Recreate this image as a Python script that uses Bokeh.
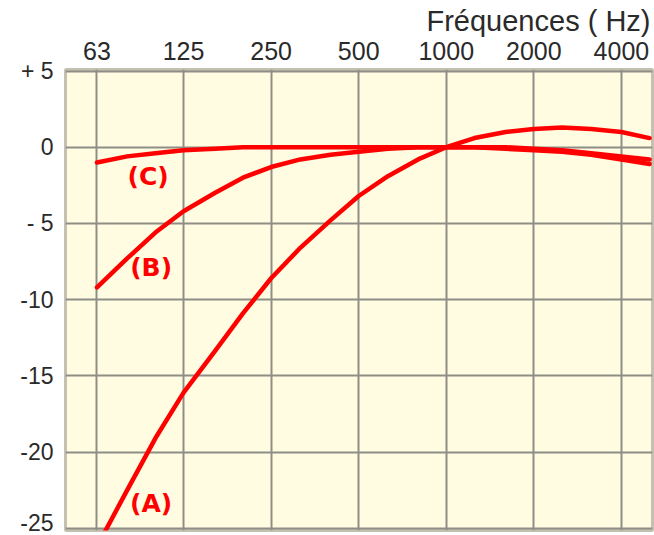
from bokeh.plotting import figure
from bokeh.models import FixedTicker, Label, ColumnDataSource
from bokeh.embed import file_html
from bokeh.resources import INLINE

# Frequency points (Hz) and weighting responses (dB) for the A, B and C curves
freqs = [63, 80, 100, 125, 160, 200, 250, 315, 400, 500, 630, 800,
         1000, 1250, 1600, 2000, 2500, 3150, 4000, 5000]
curve_a = [-26.2, -22.5, -19.1, -16.1, -13.4, -10.9, -8.6, -6.6, -4.8, -3.2, -1.9, -0.8,
           0.0, 0.6, 1.0, 1.2, 1.3, 1.2, 1.0, 0.6]
curve_b = [-9.2, -7.3, -5.6, -4.2, -3.0, -2.0, -1.3, -0.8, -0.5, -0.3, -0.1, 0.0,
           0.0, 0.0, 0.0, -0.1, -0.2, -0.4, -0.6, -0.8]
curve_c = [-1.0, -0.6, -0.4, -0.2, -0.1, 0.0, 0.0, 0.0, 0.0, 0.0, 0.0, 0.0,
           0.0, 0.0, -0.1, -0.2, -0.3, -0.5, -0.8, -1.1]

# Axis ticks and labels
freq_ticks = [63, 125, 250, 500, 1000, 2000, 4000]
freq_labels = ["63", "125", "250", "500", "1000", "2000", "4000"]
db_ticks = [5, 0, -5, -10, -15, -20, -25]
db_labels = ["+ 5", "0", "- 5", "-10", "-15", "-20", "-25"]

# Curve names and where their tags sit (Hz, dB)
curve_names = ["(A)", "(B)", "(C)"]
tag_freq = [96.7, 96.7, 94.4]
tag_db = [-23.4, -7.9, -1.9]

RED = "#ff0000"
INK = "#2a2a2a"
FONT = "Liberation Sans"

p = figure(width=654, height=535, x_axis_type="log",
           x_range=(49.1, 5116), y_range=(-25.15, 5.1),
           x_axis_location="above", title_location="above",
           output_backend="svg", toolbar_location=None,
           min_border_left=65, min_border_right=2,
           min_border_top=0, min_border_bottom=5)

p.background_fill_color = "#fffce1"
p.border_fill_color = "white"
p.outline_line_color = "#c4c1b2"
p.outline_line_width = 3

# Axis caption at the top right
p.title.text = "Fréquences ( Hz)"
p.title.align = "right"
p.title.text_font = FONT
p.title.text_font_size = "29px"
p.title.text_font_style = "normal"
p.title.text_color = INK
p.title.standoff = 4
p.title.offset = 2

# Top frequency axis
xa = p.xaxis[0]
xa.ticker = FixedTicker(ticks=freq_ticks, minor_ticks=[])
xa.major_label_overrides = {t: l for t, l in zip(freq_ticks, freq_labels)}
xa.axis_line_color = None
xa.major_tick_line_color = None
xa.minor_tick_line_color = None
xa.major_tick_out = 0
xa.major_tick_in = 0
xa.major_label_standoff = 10
xa.major_label_text_font = FONT
xa.major_label_text_font_size = "25px"
xa.major_label_text_color = INK

# Left level axis
ya = p.yaxis[0]
ya.ticker = FixedTicker(ticks=db_ticks, minor_ticks=[])
ya.major_label_overrides = {t: l for t, l in zip(db_ticks, db_labels)}
ya.axis_line_color = None
ya.major_tick_line_color = None
ya.minor_tick_line_color = None
ya.major_tick_out = 0
ya.major_tick_in = 0
ya.major_label_standoff = 12
ya.major_label_text_font = FONT
ya.major_label_text_font_size = "23px"
ya.major_label_text_color = INK

for g in (p.xgrid[0], p.ygrid[0]):
    g.grid_line_color = "#8e8e86"
    g.grid_line_width = 2
p.xgrid[0].ticker = FixedTicker(ticks=freq_ticks, minor_ticks=[])
p.ygrid[0].ticker = FixedTicker(ticks=db_ticks, minor_ticks=[])

src = ColumnDataSource(dict(f=freqs, a=curve_a, b=curve_b, c=curve_c))
for col in ("c", "b", "a"):
    p.line("f", col, source=src, line_color=RED, line_width=4.5,
           line_join="round", line_cap="round")

for name, fx, dy in zip(curve_names, tag_freq, tag_db):
    p.add_layout(Label(x=fx, y=dy, text=name, text_align="center",
                       text_baseline="middle", text_color=RED,
                       text_font="DejaVu Sans", text_font_style="bold",
                       text_font_size="25px"))

open("out.html", "w").write(file_html(p, INLINE))
